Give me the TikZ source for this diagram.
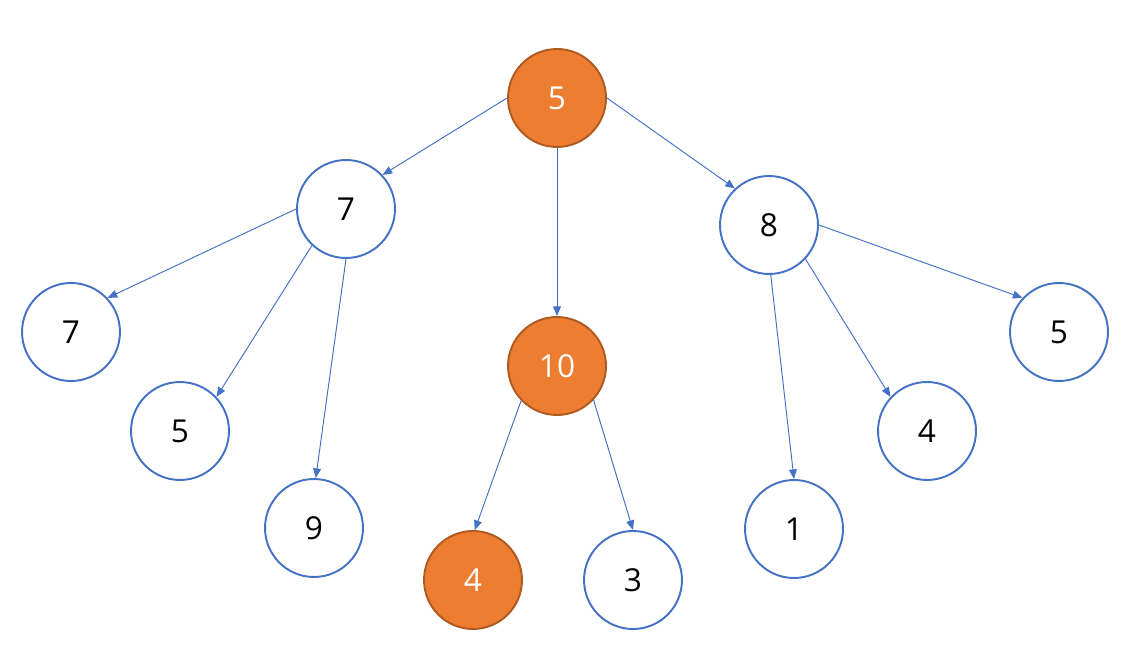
\documentclass[tikz,border=0pt]{standalone}
\usepackage{fontspec}
\setmainfont{Open Sans}
\usetikzlibrary{arrows.meta}
\definecolor{nodeblue}{HTML}{4472C4}
\definecolor{hotfill}{HTML}{ED7D31}
\definecolor{hotline}{HTML}{AE5A21}
\tikzset{
  vertex/.style = {circle, draw = nodeblue, line width = 1.1pt, fill = white,
                   minimum size = 1.96cm, inner sep = 0pt,
                   font = \fontsize{18}{20}\selectfont},
  hot/.style    = {vertex, draw = hotline, fill = hotfill, text = white},
  link/.style   = {draw = nodeblue, line width = .55pt,
                   -{Triangle[length = 5.5pt, width = 4.5pt]}}
}
\begin{document}
\begin{tikzpicture}[x = .02cm, y = -.02cm]
  \useasboundingbox (0,0) rectangle (1132,651);
  % level 0 and 1
  \node [hot]    (root) at (557,98)  {5};
  \node [vertex] (a)    at (346,209) {7};
  \node [hot]    (b)    at (557,366) {10};
  \node [vertex] (c)    at (769,225) {8};
  % leaves
  \node [vertex] (a1) at (71,332)   {7};
  \node [vertex] (a2) at (180,431)  {5};
  \node [vertex] (a3) at (314,528)  {9};
  \node [hot]    (b1) at (473,580)  {4};
  \node [vertex] (b2) at (633,580)  {3};
  \node [vertex] (c1) at (794,529)  {1};
  \node [vertex] (c2) at (927,431)  {4};
  \node [vertex] (c3) at (1059,332) {5};
  % edges
  \draw [link] (root.west)  -- (a.43);
  \draw [link] (root.south) -- (b.north);
  \draw [link] (root.east)  -- (c.133);
  \draw [link] (a.west)  -- (a1.43);
  \draw [link] (a.227)   -- (a2.43);
  \draw [link] (a.south) -- (a3.88);
  \draw [link] (b.224) -- (b1.88);
  \draw [link] (b.317) -- (b2.north);
  \draw [link] (c.272)  -- (c1.north);
  \draw [link] (c.317)  -- (c2.137);
  \draw [link] (c.east) -- (c3.137);
\end{tikzpicture}
\end{document}
